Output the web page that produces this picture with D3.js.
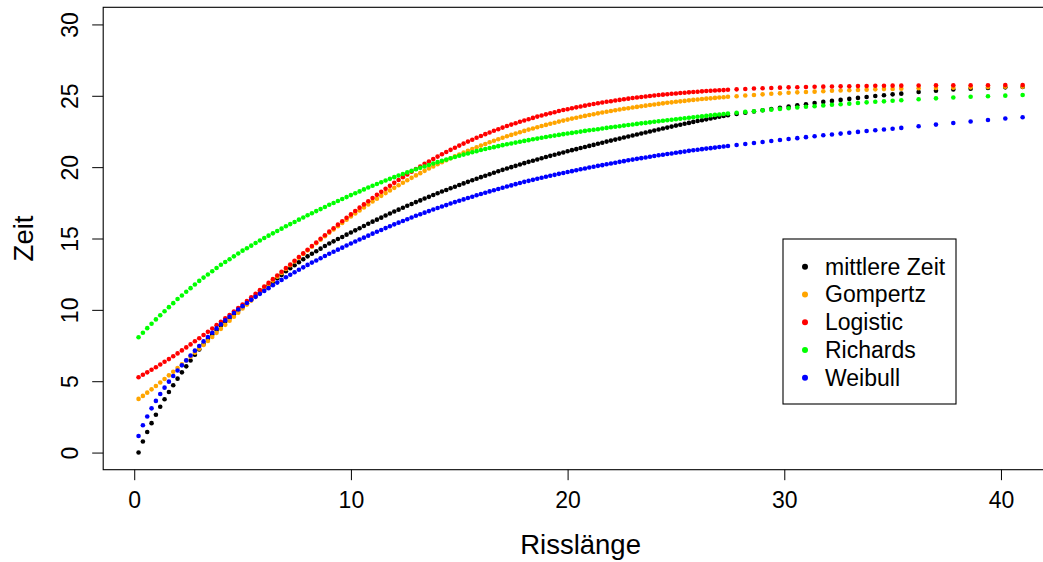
<!DOCTYPE html>
<html>
<head>
<meta charset="utf-8">
<script src="https://cdn.jsdelivr.net/npm/d3@7"></script>
<style>
  body { margin: 0; background: #fff; }
  svg { display: block; }
  text { font-family: "Liberation Sans", Arial, Helvetica, sans-serif; fill: #000; }
</style>
</head>
<body>
<svg id="chart" width="1043" height="562"></svg>
<script>
// Risslänge (x) for every point, shared by all five series
const risslaenge = [
  0.2, 0.4, 0.6, 0.8, 1.0, 1.2, 1.4, 1.6, 1.8, 2.0, 2.2, 2.4, 2.6, 2.8, 3.0, 3.2, 3.4, 3.6, 3.8, 4.0,
  4.2, 4.4, 4.6, 4.8, 5.0, 5.2, 5.4, 5.6, 5.8, 6.0, 6.2, 6.4, 6.6, 6.8, 7.0, 7.2, 7.4, 7.6, 7.8, 8.0,
  8.2, 8.4, 8.6, 8.8, 9.0, 9.2, 9.4, 9.6, 9.8, 10.0, 10.2, 10.4, 10.6, 10.8, 11.0, 11.2, 11.4, 11.6, 11.8, 12.0,
  12.2, 12.4, 12.6, 12.8, 13.0, 13.2, 13.4, 13.6, 13.8, 14.0, 14.2, 14.4, 14.6, 14.8, 15.0, 15.2, 15.4, 15.6, 15.8, 16.0,
  16.2, 16.4, 16.6, 16.8, 17.0, 17.2, 17.4, 17.6, 17.8, 18.0, 18.2, 18.4, 18.6, 18.8, 19.0, 19.2, 19.4, 19.6, 19.8, 20.0,
  20.2, 20.4, 20.6, 20.8, 21.0, 21.2, 21.4, 21.6, 21.8, 22.0, 22.2, 22.4, 22.6, 22.8, 23.0, 23.2, 23.4, 23.6, 23.8, 24.0,
  24.2, 24.4, 24.6, 24.8, 25.0, 25.2, 25.4, 25.6, 25.8, 26.0, 26.2, 26.4, 26.6, 26.8, 27.0, 27.2, 27.4,
  27.8, 28.2, 28.6, 29.0, 29.4, 29.8, 30.2, 30.6, 31.0, 31.4, 31.8, 32.2, 32.6, 33.0, 33.4, 33.8, 34.2, 34.6, 35.0, 35.4,
  36.2, 37.0, 37.8, 38.6, 39.4, 40.2, 41.0
];

const mittlereZeit = [
  0.00, 0.78, 1.44, 2.06, 2.65, 3.21, 3.74, 4.24, 4.72, 5.18, 5.62, 6.04, 6.45, 6.85, 7.23, 7.60, 7.95, 8.28, 8.59, 8.90,
  9.17, 9.43, 9.69, 9.95, 10.20, 10.46, 10.71, 10.97, 11.22, 11.47, 11.72, 11.96, 12.21, 12.45, 12.70, 12.92, 13.13, 13.34, 13.55, 13.75,
  13.93, 14.11, 14.29, 14.47, 14.65, 14.80, 14.96, 15.11, 15.27, 15.42, 15.57, 15.72, 15.88, 16.03, 16.18, 16.32, 16.46, 16.61, 16.75, 16.89,
  17.02, 17.15, 17.29, 17.42, 17.55, 17.67, 17.80, 17.92, 18.05, 18.17, 18.29, 18.40, 18.52, 18.63, 18.75, 18.86, 18.97, 19.08, 19.19, 19.30,
  19.40, 19.50, 19.61, 19.71, 19.81, 19.90, 20.00, 20.09, 20.19, 20.28, 20.37, 20.45, 20.54, 20.62, 20.71, 20.79, 20.87, 20.95, 21.03, 21.11,
  21.19, 21.26, 21.34, 21.41, 21.49, 21.56, 21.64, 21.71, 21.79, 21.86, 21.93, 22.00, 22.08, 22.15, 22.22, 22.29, 22.36, 22.43, 22.50, 22.57,
  22.64, 22.71, 22.77, 22.84, 22.91, 22.97, 23.04, 23.10, 23.17, 23.23, 23.29, 23.35, 23.41, 23.47, 23.53, 23.59, 23.64,
  23.72, 23.81, 23.90, 23.99, 24.07, 24.16, 24.24, 24.33, 24.41, 24.49, 24.57, 24.64, 24.71, 24.78, 24.85, 24.92, 24.98, 25.04, 25.10, 25.15,
  25.26, 25.36, 25.44, 25.50, 25.55, 25.59, 25.62
];

const gompertz = [
  3.76, 3.97, 4.20, 4.43, 4.67, 4.91, 5.16, 5.41, 5.66, 5.92, 6.18, 6.45, 6.72, 6.99, 7.27, 7.54, 7.82, 8.10, 8.39, 8.67,
  8.95, 9.24, 9.52, 9.80, 10.09, 10.37, 10.65, 10.94, 11.22, 11.49, 11.77, 12.05, 12.32, 12.59, 12.86, 13.13, 13.39, 13.65, 13.91, 14.17,
  14.42, 14.67, 14.91, 15.16, 15.40, 15.63, 15.86, 16.09, 16.32, 16.54, 16.76, 16.97, 17.18, 17.39, 17.59, 17.79, 17.99, 18.18, 18.37, 18.55,
  18.73, 18.91, 19.08, 19.25, 19.42, 19.58, 19.74, 19.90, 20.05, 20.20, 20.34, 20.48, 20.62, 20.76, 20.89, 21.02, 21.15, 21.27, 21.39, 21.51,
  21.62, 21.74, 21.85, 21.95, 22.06, 22.16, 22.26, 22.35, 22.45, 22.54, 22.63, 22.71, 22.80, 22.88, 22.96, 23.04, 23.11, 23.19, 23.26, 23.33,
  23.40, 23.46, 23.53, 23.59, 23.65, 23.71, 23.77, 23.83, 23.88, 23.93, 23.99, 24.04, 24.09, 24.13, 24.18, 24.22, 24.27, 24.31, 24.35, 24.39,
  24.43, 24.47, 24.51, 24.54, 24.58, 24.61, 24.64, 24.68, 24.71, 24.74, 24.77, 24.80, 24.82, 24.85, 24.88, 24.90, 24.93,
  24.97, 25.02, 25.06, 25.10, 25.14, 25.17, 25.21, 25.24, 25.27, 25.29, 25.32, 25.35, 25.37, 25.39, 25.41, 25.43, 25.45, 25.47, 25.48, 25.50,
  25.53, 25.55, 25.57, 25.59, 25.61, 25.63, 25.64
];

const logistic = [
  5.28, 5.45, 5.62, 5.80, 5.98, 6.17, 6.36, 6.55, 6.75, 6.95, 7.16, 7.37, 7.58, 7.80, 8.01, 8.24, 8.46, 8.69, 8.93, 9.16,
  9.40, 9.64, 9.88, 10.13, 10.37, 10.62, 10.88, 11.13, 11.38, 11.64, 11.89, 12.15, 12.41, 12.67, 12.93, 13.18, 13.44, 13.70, 13.96, 14.21,
  14.47, 14.72, 14.98, 15.23, 15.48, 15.72, 15.97, 16.21, 16.45, 16.69, 16.93, 17.16, 17.39, 17.61, 17.84, 18.06, 18.27, 18.48, 18.69, 18.90,
  19.10, 19.30, 19.49, 19.68, 19.87, 20.05, 20.23, 20.40, 20.57, 20.74, 20.90, 21.06, 21.21, 21.36, 21.51, 21.65, 21.79, 21.92, 22.06, 22.18,
  22.31, 22.43, 22.55, 22.66, 22.77, 22.88, 22.98, 23.08, 23.18, 23.27, 23.36, 23.45, 23.54, 23.62, 23.70, 23.78, 23.85, 23.93, 24.00, 24.06,
  24.13, 24.19, 24.25, 24.31, 24.37, 24.42, 24.48, 24.53, 24.58, 24.62, 24.67, 24.71, 24.76, 24.80, 24.84, 24.88, 24.91, 24.95, 24.98, 25.02,
  25.05, 25.08, 25.11, 25.14, 25.16, 25.19, 25.21, 25.24, 25.26, 25.28, 25.31, 25.33, 25.35, 25.37, 25.39, 25.40, 25.42,
  25.45, 25.48, 25.51, 25.53, 25.55, 25.57, 25.59, 25.60, 25.62, 25.63, 25.64, 25.65, 25.66, 25.67, 25.68, 25.69, 25.70, 25.70, 25.71, 25.71,
  25.72, 25.73, 25.73, 25.74, 25.74, 25.75, 25.75
];

const richards = [
  8.08, 8.40, 8.72, 9.03, 9.33, 9.62, 9.90, 10.19, 10.47, 10.76, 11.01, 11.27, 11.52, 11.78, 12.03, 12.26, 12.48, 12.71, 12.93, 13.16,
  13.35, 13.55, 13.75, 13.95, 14.15, 14.32, 14.50, 14.68, 14.86, 15.04, 15.20, 15.36, 15.53, 15.69, 15.86, 16.01, 16.16, 16.32, 16.47, 16.63,
  16.77, 16.92, 17.06, 17.21, 17.36, 17.49, 17.63, 17.77, 17.90, 18.04, 18.17, 18.30, 18.44, 18.57, 18.70, 18.82, 18.94, 19.06, 19.18, 19.30,
  19.41, 19.52, 19.63, 19.74, 19.85, 19.95, 20.05, 20.15, 20.25, 20.35, 20.44, 20.53, 20.62, 20.71, 20.80, 20.88, 20.96, 21.04, 21.12, 21.20,
  21.27, 21.34, 21.40, 21.47, 21.54, 21.60, 21.66, 21.72, 21.78, 21.84, 21.89, 21.95, 22.00, 22.06, 22.11, 22.16, 22.21, 22.26, 22.31, 22.36,
  22.40, 22.45, 22.49, 22.54, 22.58, 22.62, 22.66, 22.71, 22.75, 22.79, 22.83, 22.87, 22.91, 22.95, 22.99, 23.03, 23.07, 23.10, 23.14, 23.18,
  23.22, 23.25, 23.29, 23.32, 23.36, 23.39, 23.43, 23.46, 23.50, 23.53, 23.56, 23.59, 23.63, 23.66, 23.69, 23.72, 23.75,
  23.81, 23.87, 23.92, 23.98, 24.03, 24.08, 24.13, 24.18, 24.23, 24.27, 24.32, 24.37, 24.41, 24.45, 24.49, 24.54, 24.58, 24.61, 24.65, 24.69,
  24.76, 24.82, 24.88, 24.93, 24.97, 25.01, 25.05
];

const weibull = [
  1.16, 1.91, 2.53, 3.10, 3.62, 4.10, 4.55, 4.97, 5.37, 5.75, 6.11, 6.46, 6.80, 7.14, 7.47, 7.79, 8.10, 8.40, 8.70, 8.99,
  9.26, 9.52, 9.78, 10.02, 10.26, 10.48, 10.70, 10.91, 11.12, 11.33, 11.52, 11.72, 11.91, 12.10, 12.29, 12.46, 12.63, 12.81, 12.98, 13.15,
  13.31, 13.46, 13.62, 13.77, 13.93, 14.07, 14.22, 14.36, 14.51, 14.65, 14.79, 14.93, 15.06, 15.20, 15.34, 15.47, 15.60, 15.73, 15.86, 15.99,
  16.11, 16.23, 16.35, 16.47, 16.59, 16.70, 16.81, 16.92, 17.03, 17.14, 17.24, 17.34, 17.45, 17.55, 17.65, 17.74, 17.84, 17.93, 18.03, 18.12,
  18.21, 18.30, 18.38, 18.47, 18.56, 18.64, 18.72, 18.81, 18.89, 18.97, 19.04, 19.11, 19.19, 19.26, 19.33, 19.40, 19.46, 19.53, 19.59, 19.66,
  19.72, 19.78, 19.85, 19.91, 19.97, 20.03, 20.09, 20.14, 20.20, 20.26, 20.31, 20.37, 20.42, 20.48, 20.53, 20.58, 20.63, 20.68, 20.73, 20.78,
  20.83, 20.87, 20.92, 20.96, 21.01, 21.05, 21.09, 21.14, 21.18, 21.22, 21.26, 21.30, 21.33, 21.37, 21.41, 21.45, 21.48,
  21.55, 21.62, 21.69, 21.76, 21.83, 21.90, 21.97, 22.03, 22.10, 22.16, 22.23, 22.29, 22.35, 22.41, 22.47, 22.53, 22.58, 22.64, 22.69, 22.75,
  22.87, 22.98, 23.09, 23.20, 23.30, 23.41, 23.50
];

const seriesNames = ['mittlere Zeit', 'Gompertz', 'Logistic', 'Richards', 'Weibull'];
const seriesColors = ['#000000', '#FFA500', '#FF0000', '#00FF00', '#0000FF'];
const seriesValues = [mittlereZeit, gompertz, logistic, richards, weibull];
const xTicks = [0, 10, 20, 30, 40];
const yTicks = [0, 5, 10, 15, 20, 25, 30];

seriesValues.forEach((values, i) => {
  if (values.length !== risslaenge.length) {
    throw new Error(`${seriesNames[i]}: ${values.length} values, expected ${risslaenge.length}`);
  }
});

const svg = d3.select('#chart');
const plot = { left: 103.2, right: 1058, top: 7.3, bottom: 469.7 };

// R-style ranges: data range plus 4% on each side
const x = d3.scaleLinear().domain([-1.432, 42.632]).range([plot.left, plot.right]);
const y = d3.scaleLinear().domain([-1.2, 31.2]).range([plot.bottom, plot.top]);

const xAxis = svg.append('g')
  .attr('transform', `translate(0,${plot.bottom})`)
  .call(d3.axisBottom(x).tickValues(xTicks).tickSize(10.5).tickFormat(d3.format('d')));
xAxis.select('.domain').remove();
xAxis.selectAll('.tick line').attr('stroke', '#000').attr('stroke-width', 1);
xAxis.selectAll('.tick text').attr('y', 38.8).attr('dy', 0).attr('font-size', 23).attr('fill', '#000')
  .style('font-family', '"Liberation Sans", Arial, sans-serif');

const yAxis = svg.append('g')
  .attr('transform', `translate(${plot.left},0)`)
  .call(d3.axisLeft(y).tickValues(yTicks).tickSize(11).tickFormat(d3.format('d')));
yAxis.select('.domain').remove();
yAxis.selectAll('.tick line').attr('stroke', '#000').attr('stroke-width', 1);
yAxis.selectAll('.tick text')
  .attr('transform', 'rotate(-90)')
  .attr('x', 0).attr('y', -24.9).attr('dy', 0)
  .attr('text-anchor', 'middle')
  .attr('font-size', 23).attr('fill', '#000')
  .style('font-family', '"Liberation Sans", Arial, sans-serif');

// data points, drawn in legend order so Weibull ends up on top
seriesValues.forEach((values, i) => {
  svg.append('g')
    .selectAll('circle')
    .data(values)
    .join('circle')
    .attr('cx', (d, j) => x(risslaenge[j]))
    .attr('cy', (d) => y(d))
    .attr('r', 2.3)
    .attr('fill', seriesColors[i]);
});

svg.append('rect')
  .attr('x', plot.left).attr('y', plot.top)
  .attr('width', plot.right - plot.left).attr('height', plot.bottom - plot.top)
  .attr('fill', 'none').attr('stroke', '#000').attr('stroke-width', 1.1);

svg.append('text')
  .attr('x', (plot.left + plot.right) / 2).attr('y', 554)
  .attr('text-anchor', 'middle').attr('font-size', 27.5)
  .text('Risslänge');

svg.append('text')
  .attr('transform', `translate(33,${(plot.top + plot.bottom) / 2}) rotate(-90)`)
  .attr('text-anchor', 'middle').attr('font-size', 27.5)
  .text('Zeit');

// legend
const legend = svg.append('g');
legend.append('rect')
  .attr('x', 783).attr('y', 239).attr('width', 173).attr('height', 165)
  .attr('fill', '#fff').attr('stroke', '#000').attr('stroke-width', 1.1);
const rowY = d3.scalePoint().domain(seriesNames).range([266.7, 377.7]);
legend.selectAll('circle')
  .data(seriesNames)
  .join('circle')
  .attr('cx', 805).attr('cy', (d) => rowY(d)).attr('r', 3)
  .attr('fill', (d, i) => seriesColors[i]);
legend.selectAll('text')
  .data(seriesNames)
  .join('text')
  .attr('x', 825).attr('y', (d) => rowY(d) + 8)
  .attr('font-size', 23)
  .text((d) => d);
</script>
</body>
</html>
